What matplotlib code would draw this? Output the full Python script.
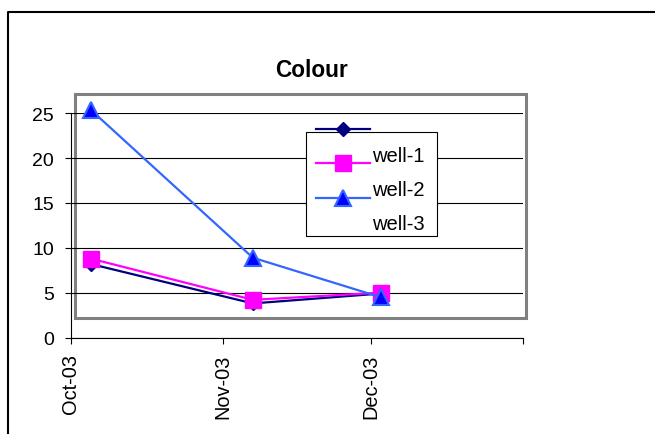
import datetime as dt

import matplotlib
matplotlib.use("Agg")
import matplotlib.pyplot as plt
from matplotlib import font_manager
from matplotlib.lines import Line2D
from matplotlib.patches import Rectangle

# ---- data -------------------------------------------------------------
sample_dates = ["2003-10-05", "2003-11-07", "2003-12-03"]
well_1 = [8.2, 3.8, 4.9]
well_2 = [8.8, 4.2, 5.0]
well_3 = [25.4, 8.9, 4.5]
series_names = ["well-1", "well-2", "well-3"]

month_ticks = ["2003-10-01", "2003-11-01", "2003-12-01", "2004-01-01"]
month_labels = ["Oct-03", "Nov-03", "Dec-03", ""]
y_ticks = [0, 5, 10, 15, 20, 25]
chart_title = "Colour"


def pick_font(*names):
    for name in names:
        try:
            font_manager.findfont(name, fallback_to_default=False)
            return name
        except ValueError:
            continue
    return "DejaVu Sans"


SANS = pick_font("Liberation Sans", "Arial", "DejaVu Sans")
NARROW = pick_font("Liberation Sans Narrow", "Arial Narrow")
x_label_size = 17 if NARROW != "DejaVu Sans" else 14.4
if NARROW == "DejaVu Sans":
    NARROW = SANS

W, H = 655, 435
fig = plt.figure(figsize=(W / 100, H / 100), dpi=100)
fig.patch.set_facecolor("white")


def fx(x):
    return x / W


def fy(y):
    return 1 - y / H


to_date = dt.date.fromisoformat
dates = [to_date(d) for d in sample_dates]
ticks = [to_date(d) for d in month_ticks]

# axes placed so the value axis runs 0..25 and the date axis Oct-03..Jan-04
ax = fig.add_axes([fx(71), fy(338.5), fx(523) - fx(71), fy(114.3) - fy(338.5)])
ax.set_facecolor("none")

styles = [
    dict(color="#000080", marker="D", ms=7.5, mfc="#000080", mec="#000080"),
    dict(color="#FF00FF", marker="s", ms=11, mfc="#FF00FF", mec="#FF00FF"),
    dict(color="#3366FF", marker="^", ms=11, mfc="#0000FF", mec="#3366FF", mew=1.5),
]
for values, name, st in zip([well_1, well_2, well_3], series_names, styles):
    ax.plot(dates, values, lw=1.6, label=name, clip_on=False, zorder=3, **st)

ax.set_xlim(ticks[0], ticks[-1])
ax.set_ylim(0, 25)
ax.set_xticks(ticks)
ax.set_xticklabels(month_labels, rotation=90, fontfamily=NARROW, fontsize=x_label_size)
ax.set_yticks(y_ticks)
ax.set_yticklabels([str(v) for v in y_ticks], fontfamily=SANS, fontsize=14)
ax.tick_params(axis="both", direction="out", length=4.3, width=0.8, color="black")
ax.tick_params(axis="x", pad=7)
ax.tick_params(axis="y", pad=8)

ax.yaxis.grid(True, color="black", lw=0.8)
ax.set_axisbelow(True)
for side in ("top", "right"):
    ax.spines[side].set_visible(False)
for side in ("left", "bottom"):
    ax.spines[side].set_color("black")
    ax.spines[side].set_linewidth(0.8)

# grey plot-area frame
fig.add_artist(Rectangle((fx(74.5), fy(319)), fx(526) - fx(74.5), fy(95) - fy(319),
                         facecolor="none", edgecolor="#808080", lw=2.2, zorder=-1))

# outer chart border
fig.add_artist(Line2D([fx(7.5), fx(7.5), fx(700)], [fy(500), fy(13), fy(13)],
                      color="black", lw=1.5))

# title
fig.text(fx(311.7), fy(76.7), chart_title, ha="center", va="baseline",
         fontsize=16.3, fontweight="bold", fontfamily=SANS)

# legend box with its entries
fig.add_artist(Rectangle((fx(306), fy(236.7)), fx(436.5) - fx(306), fy(132.7) - fy(236.7),
                         facecolor="white", edgecolor="black", lw=0.8, zorder=2))
handle_rows = [130, 164.3, 199.3]
label_rows = [161.7, 196.2, 230.5]
for row, st in zip(handle_rows, styles):
    fig.add_artist(Line2D([fx(316), fx(370)], [fy(row), fy(row)], lw=1.6, zorder=3,
                          color=st["color"]))
    fig.add_artist(Line2D([fx(343)], [fy(row)], lw=0, zorder=3,
                          marker=st["marker"], ms=st["ms"], mfc=st["mfc"],
                          mec=st["mec"], mew=st.get("mew", 1.0)))
for row, name in zip(label_rows, series_names):
    fig.text(fx(371.7), fy(row), name, ha="left", va="baseline",
             fontsize=14.5, fontfamily=SANS, zorder=4)

fig.savefig("out.png", dpi=100, facecolor="white")
